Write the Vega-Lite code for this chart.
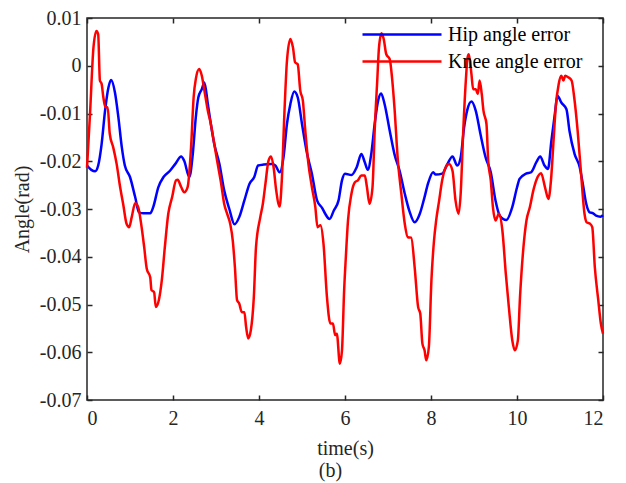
{
  "$schema": "https://vega.github.io/schema/vega-lite/v6.json",
  "width": 516,
  "height": 382,
  "autosize": "none",
  "padding": {"left": 87, "top": 18, "right": 23, "bottom": 83},
  "background": "white",
  "datasets": {
    "hip": [
      {"t":0.00,"v":-0.0209},{"t":0.10,"v":-0.0218},{"t":0.19,"v":-0.0221},{"t":0.26,"v":-0.0209},{"t":0.34,"v":-0.0164},{"t":0.42,"v":-0.0094},{"t":0.50,"v":-0.0045},{"t":0.56,"v":-0.0030},{"t":0.65,"v":-0.0056},{"t":0.73,"v":-0.0108},{"t":0.81,"v":-0.0171},{"t":0.88,"v":-0.0209},{"t":1.00,"v":-0.0233},{"t":1.12,"v":-0.0275},{"t":1.21,"v":-0.0307},{"t":1.31,"v":-0.0309},{"t":1.47,"v":-0.0309},{"t":1.54,"v":-0.0296},{"t":1.66,"v":-0.0254},{"t":1.78,"v":-0.0233},{"t":1.93,"v":-0.0220},{"t":2.05,"v":-0.0206},{"t":2.19,"v":-0.0190},{"t":2.26,"v":-0.0199},{"t":2.38,"v":-0.0233},{"t":2.46,"v":-0.0185},{"t":2.53,"v":-0.0108},{"t":2.59,"v":-0.0066},{"t":2.67,"v":-0.0049},{"t":2.73,"v":-0.0035},{"t":2.81,"v":-0.0080},{"t":2.88,"v":-0.0122},{"t":2.96,"v":-0.0164},{"t":3.08,"v":-0.0206},{"t":3.19,"v":-0.0261},{"t":3.31,"v":-0.0300},{"t":3.43,"v":-0.0332},{"t":3.54,"v":-0.0317},{"t":3.66,"v":-0.0282},{"t":3.78,"v":-0.0247},{"t":3.89,"v":-0.0233},{"t":3.98,"v":-0.0209},{"t":4.11,"v":-0.0207},{"t":4.30,"v":-0.0206},{"t":4.38,"v":-0.0209},{"t":4.48,"v":-0.0223},{"t":4.57,"v":-0.0192},{"t":4.65,"v":-0.0122},{"t":4.73,"v":-0.0080},{"t":4.82,"v":-0.0054},{"t":4.90,"v":-0.0066},{"t":5.00,"v":-0.0122},{"t":5.12,"v":-0.0185},{"t":5.23,"v":-0.0226},{"t":5.35,"v":-0.0282},{"t":5.47,"v":-0.0298},{"t":5.54,"v":-0.0310},{"t":5.64,"v":-0.0321},{"t":5.74,"v":-0.0303},{"t":5.85,"v":-0.0282},{"t":5.93,"v":-0.0240},{"t":6.00,"v":-0.0226},{"t":6.15,"v":-0.0229},{"t":6.27,"v":-0.0213},{"t":6.38,"v":-0.0185},{"t":6.46,"v":-0.0202},{"t":6.53,"v":-0.0218},{"t":6.61,"v":-0.0185},{"t":6.69,"v":-0.0122},{"t":6.77,"v":-0.0073},{"t":6.84,"v":-0.0058},{"t":6.92,"v":-0.0080},{"t":7.04,"v":-0.0136},{"t":7.15,"v":-0.0185},{"t":7.27,"v":-0.0220},{"t":7.39,"v":-0.0268},{"t":7.50,"v":-0.0305},{"t":7.62,"v":-0.0328},{"t":7.74,"v":-0.0310},{"t":7.85,"v":-0.0275},{"t":7.93,"v":-0.0247},{"t":8.05,"v":-0.0223},{"t":8.11,"v":-0.0228},{"t":8.26,"v":-0.0226},{"t":8.38,"v":-0.0206},{"t":8.50,"v":-0.0190},{"t":8.61,"v":-0.0209},{"t":8.69,"v":-0.0192},{"t":8.77,"v":-0.0129},{"t":8.84,"v":-0.0094},{"t":8.94,"v":-0.0075},{"t":9.04,"v":-0.0094},{"t":9.15,"v":-0.0143},{"t":9.27,"v":-0.0192},{"t":9.39,"v":-0.0223},{"t":9.50,"v":-0.0282},{"t":9.60,"v":-0.0314},{"t":9.75,"v":-0.0323},{"t":9.89,"v":-0.0296},{"t":10.00,"v":-0.0255},{"t":10.06,"v":-0.0237},{"t":10.21,"v":-0.0226},{"t":10.33,"v":-0.0223},{"t":10.45,"v":-0.0202},{"t":10.54,"v":-0.0190},{"t":10.64,"v":-0.0209},{"t":10.72,"v":-0.0216},{"t":10.80,"v":-0.0157},{"t":10.88,"v":-0.0101},{"t":10.94,"v":-0.0063},{"t":11.03,"v":-0.0077},{"t":11.15,"v":-0.0091},{"t":11.22,"v":-0.0136},{"t":11.34,"v":-0.0185},{"t":11.46,"v":-0.0213},{"t":11.53,"v":-0.0247},{"t":11.61,"v":-0.0289},{"t":11.69,"v":-0.0307},{"t":11.77,"v":-0.0309},{"t":11.84,"v":-0.0314},{"t":11.94,"v":-0.0316},{"t":12.00,"v":-0.0313}
    ],
    "knee": [
      {"t":0.00,"v":-0.0214},{"t":0.07,"v":-0.0101},{"t":0.15,"v":0.0038},{"t":0.22,"v":0.0073},{"t":0.26,"v":0.0066},{"t":0.30,"v":-0.0031},{"t":0.34,"v":-0.0038},{"t":0.38,"v":-0.0066},{"t":0.43,"v":-0.0087},{"t":0.48,"v":-0.0087},{"t":0.53,"v":-0.0143},{"t":0.61,"v":-0.0171},{"t":0.69,"v":-0.0206},{"t":0.77,"v":-0.0254},{"t":0.84,"v":-0.0289},{"t":0.92,"v":-0.0331},{"t":0.98,"v":-0.0338},{"t":1.04,"v":-0.0317},{"t":1.12,"v":-0.0288},{"t":1.19,"v":-0.0296},{"t":1.27,"v":-0.0338},{"t":1.33,"v":-0.0380},{"t":1.39,"v":-0.0425},{"t":1.47,"v":-0.0443},{"t":1.50,"v":-0.0470},{"t":1.56,"v":-0.0474},{"t":1.60,"v":-0.0505},{"t":1.67,"v":-0.0491},{"t":1.74,"v":-0.0449},{"t":1.81,"v":-0.0380},{"t":1.89,"v":-0.0310},{"t":1.98,"v":-0.0275},{"t":2.07,"v":-0.0240},{"t":2.11,"v":-0.0239},{"t":2.19,"v":-0.0254},{"t":2.26,"v":-0.0265},{"t":2.34,"v":-0.0254},{"t":2.42,"v":-0.0171},{"t":2.48,"v":-0.0066},{"t":2.53,"v":-0.0028},{"t":2.61,"v":-0.0007},{"t":2.67,"v":-0.0021},{"t":2.73,"v":-0.0052},{"t":2.81,"v":-0.0094},{"t":2.88,"v":-0.0122},{"t":2.96,"v":-0.0164},{"t":3.04,"v":-0.0206},{"t":3.12,"v":-0.0247},{"t":3.19,"v":-0.0289},{"t":3.26,"v":-0.0310},{"t":3.33,"v":-0.0331},{"t":3.39,"v":-0.0366},{"t":3.44,"v":-0.0422},{"t":3.49,"v":-0.0491},{"t":3.54,"v":-0.0498},{"t":3.60,"v":-0.0516},{"t":3.66,"v":-0.0516},{"t":3.70,"v":-0.0547},{"t":3.75,"v":-0.0571},{"t":3.81,"v":-0.0554},{"t":3.88,"v":-0.0484},{"t":3.93,"v":-0.0380},{"t":4.03,"v":-0.0317},{"t":4.09,"v":-0.0289},{"t":4.15,"v":-0.0247},{"t":4.22,"v":-0.0199},{"t":4.28,"v":-0.0190},{"t":4.34,"v":-0.0213},{"t":4.40,"v":-0.0261},{"t":4.48,"v":-0.0295},{"t":4.53,"v":-0.0240},{"t":4.59,"v":-0.0101},{"t":4.65,"v":0.0010},{"t":4.73,"v":0.0056},{"t":4.79,"v":0.0038},{"t":4.84,"v":0.0007},{"t":4.90,"v":0.0003},{"t":4.96,"v":-0.0052},{"t":5.02,"v":-0.0073},{"t":5.07,"v":-0.0129},{"t":5.15,"v":-0.0206},{"t":5.23,"v":-0.0254},{"t":5.31,"v":-0.0296},{"t":5.36,"v":-0.0338},{"t":5.43,"v":-0.0334},{"t":5.50,"v":-0.0373},{"t":5.58,"v":-0.0484},{"t":5.66,"v":-0.0540},{"t":5.72,"v":-0.0540},{"t":5.77,"v":-0.0564},{"t":5.81,"v":-0.0561},{"t":5.88,"v":-0.0624},{"t":5.93,"v":-0.0596},{"t":5.98,"v":-0.0470},{"t":6.02,"v":-0.0400},{"t":6.07,"v":-0.0324},{"t":6.15,"v":-0.0268},{"t":6.23,"v":-0.0244},{"t":6.30,"v":-0.0240},{"t":6.38,"v":-0.0230},{"t":6.46,"v":-0.0230},{"t":6.51,"v":-0.0254},{"t":6.57,"v":-0.0289},{"t":6.64,"v":-0.0254},{"t":6.69,"v":-0.0136},{"t":6.75,"v":-0.0031},{"t":6.79,"v":0.0038},{"t":6.85,"v":0.0068},{"t":6.90,"v":0.0056},{"t":6.96,"v":0.0024},{"t":7.04,"v":0.0014},{"t":7.10,"v":-0.0031},{"t":7.15,"v":-0.0087},{"t":7.23,"v":-0.0199},{"t":7.31,"v":-0.0268},{"t":7.39,"v":-0.0331},{"t":7.46,"v":-0.0359},{"t":7.54,"v":-0.0360},{"t":7.62,"v":-0.0422},{"t":7.70,"v":-0.0505},{"t":7.75,"v":-0.0519},{"t":7.80,"v":-0.0582},{"t":7.85,"v":-0.0596},{"t":7.89,"v":-0.0617},{"t":7.95,"v":-0.0589},{"t":8.01,"v":-0.0449},{"t":8.07,"v":-0.0366},{"t":8.12,"v":-0.0324},{"t":8.19,"v":-0.0282},{"t":8.26,"v":-0.0240},{"t":8.34,"v":-0.0213},{"t":8.42,"v":-0.0206},{"t":8.50,"v":-0.0220},{"t":8.57,"v":-0.0282},{"t":8.64,"v":-0.0310},{"t":8.69,"v":-0.0268},{"t":8.75,"v":-0.0136},{"t":8.81,"v":-0.0031},{"t":8.85,"v":0.0017},{"t":8.88,"v":0.0024},{"t":8.94,"v":-0.0017},{"t":8.98,"v":-0.0049},{"t":9.04,"v":-0.0049},{"t":9.09,"v":-0.0059},{"t":9.13,"v":-0.0031},{"t":9.18,"v":-0.0059},{"t":9.22,"v":-0.0094},{"t":9.29,"v":-0.0122},{"t":9.33,"v":-0.0199},{"t":9.39,"v":-0.0240},{"t":9.44,"v":-0.0296},{"t":9.50,"v":-0.0324},{"t":9.58,"v":-0.0310},{"t":9.66,"v":-0.0345},{"t":9.74,"v":-0.0436},{"t":9.81,"v":-0.0505},{"t":9.89,"v":-0.0575},{"t":9.95,"v":-0.0596},{"t":10.02,"v":-0.0575},{"t":10.07,"v":-0.0484},{"t":10.15,"v":-0.0380},{"t":10.22,"v":-0.0324},{"t":10.30,"v":-0.0296},{"t":10.38,"v":-0.0261},{"t":10.46,"v":-0.0237},{"t":10.56,"v":-0.0225},{"t":10.65,"v":-0.0254},{"t":10.73,"v":-0.0279},{"t":10.79,"v":-0.0240},{"t":10.85,"v":-0.0157},{"t":10.90,"v":-0.0087},{"t":10.97,"v":-0.0038},{"t":11.03,"v":-0.0021},{"t":11.08,"v":-0.0031},{"t":11.12,"v":-0.0021},{"t":11.19,"v":-0.0024},{"t":11.27,"v":-0.0031},{"t":11.33,"v":-0.0066},{"t":11.41,"v":-0.0136},{"t":11.49,"v":-0.0226},{"t":11.57,"v":-0.0310},{"t":11.62,"v":-0.0328},{"t":11.70,"v":-0.0331},{"t":11.75,"v":-0.0338},{"t":11.81,"v":-0.0422},{"t":11.89,"v":-0.0491},{"t":11.95,"v":-0.0540},{"t":12.00,"v":-0.0561}
    ]
  },
  "layer": [
    {
      "data": {"name": "hip"},
      "mark": {"type": "line", "strokeWidth": 2.5, "interpolate": "monotone"},
      "encoding": {
        "x": {"field": "t", "type": "quantitative",
              "scale": {"domain": [0, 12], "nice": false, "zero": false},
              "axis": {"orient": "bottom", "values": [0,2,4,6,8,10,12], "labelPadding": 13,
                       "labelFont": "Liberation Serif", "labelFontSize": 20,
                       "title": ["time(s)", "(b)\u2800\u2800"], "titleBaseline": "alphabetic", "titleY": 54, "titleLineHeight": 22}},
        "y": {"field": "v", "type": "quantitative",
              "scale": {"domain": [-0.07, 0.01], "nice": false, "zero": false},
              "axis": {"orient": "left", "values": [-0.07,-0.06,-0.05,-0.04,-0.03,-0.02,-0.01,0,0.01], "labelPadding": 11,
                       "labelFont": "Liberation Serif", "labelFontSize": 20,
                       "labelExpr": "datum.value == 0 ? '0' : replace(format(datum.value, '.2f'), '\u2212', '-')",
                       "title": "Angle(rad)", "titleX": -65, "titleY": 191, "titleBaseline": "middle", "titleAngle": -90}},
        "color": {"datum": "Hip angle error", "type": "nominal",
                  "scale": {"domain": ["Hip angle error", "Knee angle error"], "range": ["#0000FF", "#FF0000"]},
                  "legend": {"orient": "none", "legendX": 274, "legendY": 3, "title": null, "symbolType": "stroke",
                             "symbolSize": 6241, "symbolStrokeWidth": 2.5, "labelOffset": 5, "labelFontSize": 20,
                             "labelFont": "Liberation Serif", "labelColor": "#000000", "clipHeight": 27, "rowPadding": 0, "padding": 0}}
      }
    },
    {
      "data": {"name": "knee"},
      "mark": {"type": "line", "strokeWidth": 2.5, "interpolate": "monotone"},
      "encoding": {
        "x": {"field": "t", "type": "quantitative", "axis": null},
        "y": {"field": "v", "type": "quantitative", "axis": null},
        "color": {"datum": "Knee angle error", "type": "nominal"}
      }
    },
    {
      "data": {"name": "hip"},
      "mark": {"type": "line", "opacity": 0},
      "encoding": {
        "x": {"field": "t", "type": "quantitative",
              "axis": {"orient": "top", "values": [0,2,4,6,8,10,12], "labels": false, "title": null}},
        "y": {"field": "v", "type": "quantitative",
              "axis": {"orient": "right", "values": [-0.07,-0.06,-0.05,-0.04,-0.03,-0.02,-0.01,0,0.01], "labels": false, "title": null}}
      }
    }
  ],
  "resolve": {"axis": {"x": "independent", "y": "independent"}},
  "config": {
    "view": {"stroke": "#262626", "strokeWidth": 1.5},
    "axis": {"domain": false, "grid": false, "tickSize": -5, "tickColor": "#262626", "tickWidth": 1.5,
             "labelFont": "Liberation Serif", "labelFontSize": 20, "labelColor": "#262626",
             "titleFont": "Liberation Serif", "titleFontSize": 20, "titleFontWeight": "normal", "titleColor": "#262626"}
  }
}
